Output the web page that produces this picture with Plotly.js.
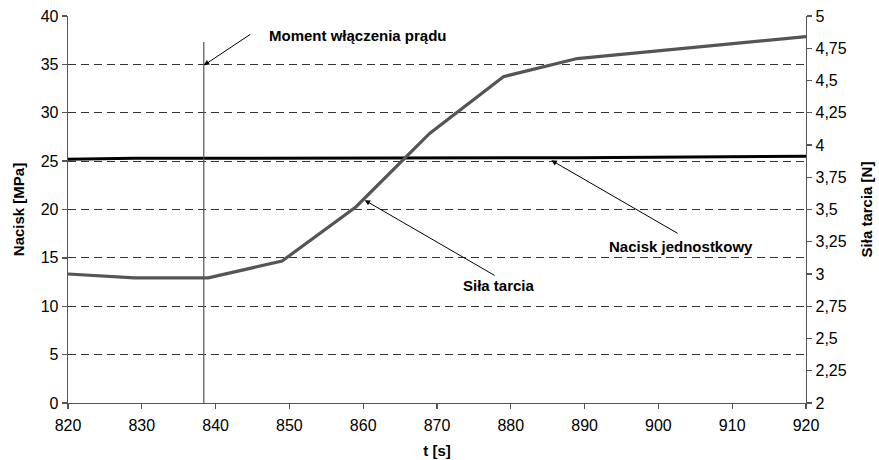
<!DOCTYPE html>
<html>
<head>
<meta charset="utf-8">
<script src="https://cdn.plot.ly/plotly-3.0.1.min.js"></script>
<style>html,body{margin:0;padding:0;background:#fff;}#chart{width:879px;height:460px;}</style>
</head>
<body>
<div id="chart"></div>
<script>
// Data
const tFriction = [820, 829, 839, 849, 859, 869, 879, 889, 920];
const friction = [3.00, 2.97, 2.97, 3.10, 3.52, 4.09, 4.53, 4.67, 4.84];   // Siła tarcia [N]
const tPressure = [820, 829, 839, 849, 859, 869, 879, 889, 920];
const pressure = [25.2, 25.3, 25.3, 25.3, 25.3, 25.3, 25.3, 25.35, 25.5]; // Nacisk [MPa]
const switchOnTime = 838.4;     // Moment włączenia prądu
const switchOnTop = 37.3;

const xTicks = [820, 830, 840, 850, 860, 870, 880, 890, 900, 910, 920];
const yLeftTicks = [0, 5, 10, 15, 20, 25, 30, 35, 40];
const yRightTicks = [2, 2.25, 2.5, 2.75, 3, 3.25, 3.5, 3.75, 4, 4.25, 4.5, 4.75, 5];
const yRightLabels = ['2', '2,25', '2,5', '2,75', '3', '3,25', '3,5', '3,75', '4', '4,25', '4,5', '4,75', '5'];

const FONT = 'Liberation Sans, Arial, sans-serif';

const traces = [
  {x: tPressure, y: pressure, type: 'scatter', mode: 'lines', name: 'Nacisk jednostkowy',
   line: {color: '#000000', width: 3}, yaxis: 'y'},
  {x: tFriction, y: friction, type: 'scatter', mode: 'lines', name: 'Siła tarcia',
   line: {color: '#555555', width: 3.2}, yaxis: 'y2'}
];

function arrow(x, y, ax, ay) {
  return {x: x, y: y, ax: ax, ay: ay, xref: 'x', yref: 'y', axref: 'x', ayref: 'y',
          text: '', showarrow: true, arrowhead: 2, arrowsize: 1.1, arrowwidth: 1,
          arrowcolor: '#000', standoff: 0, startstandoff: 0};
}
function label(x, y, text) {
  return {x: x, y: y, xref: 'x', yref: 'y', text: '<b>' + text + '</b>', showarrow: false,
          font: {family: FONT, size: 15, color: '#000'}};
}

const layout = {
  width: 879, height: 460,
  margin: {l: 68, r: 73, t: 16, b: 57},
  paper_bgcolor: '#fff', plot_bgcolor: '#fff',
  showlegend: false,
  font: {family: FONT, size: 16, color: '#000'},
  xaxis: {
    range: [820, 920], tickvals: xTicks, showgrid: false, zeroline: false,
    showline: true, linecolor: '#555', linewidth: 1.3,
    ticks: 'outside', ticklen: 5, tickcolor: '#555', tickwidth: 1.3,
    tickfont: {family: FONT, size: 16}, ticklabelstandoff: 2,
    title: {text: '<b>t [s]</b>', font: {family: FONT, size: 15}, standoff: 13}
  },
  yaxis: {
    range: [0, 40], tickvals: yLeftTicks, showgrid: true, gridcolor: '#333', gridwidth: 1,
    griddash: '8px,5px', zeroline: false,
    showline: true, linecolor: '#555', linewidth: 1.3,
    ticks: 'outside', ticklen: 5, tickcolor: '#555', tickwidth: 1.3,
    tickfont: {family: FONT, size: 16},
    title: {text: '<b>Nacisk [MPa]</b>', font: {family: FONT, size: 15}, standoff: 12}
  },
  yaxis2: {
    range: [2, 5], overlaying: 'y', side: 'right', tickvals: yRightTicks, ticktext: yRightLabels,
    showgrid: false, zeroline: false,
    showline: true, linecolor: '#555', linewidth: 1.3,
    ticks: 'outside', ticklen: 5, tickcolor: '#555', tickwidth: 1.3,
    tickfont: {family: FONT, size: 16},
    title: {text: '<b>Siła tarcia [N]</b>', font: {family: FONT, size: 15}, standoff: 15}
  },
  shapes: [
    {type: 'line', xref: 'x', yref: 'y', x0: switchOnTime, x1: switchOnTime, y0: 0, y1: switchOnTop,
     line: {color: '#555', width: 1.2}}
  ],
  annotations: [
    label(859.3, 38.0, 'Moment włączenia prądu'),
    arrow(838.4, 34.9, 844.9, 38.2),
    label(878.4, 12.15, 'Siła tarcia'),
    arrow(860.2, 20.96, 878.0, 13.1),
    label(903.0, 16.2, 'Nacisk jednostkowy'),
    arrow(885.5, 25.08, 902.8, 17.45)
  ]
};

Plotly.newPlot('chart', traces, layout, {displayModeBar: false, staticPlot: true});
</script>
</body>
</html>
